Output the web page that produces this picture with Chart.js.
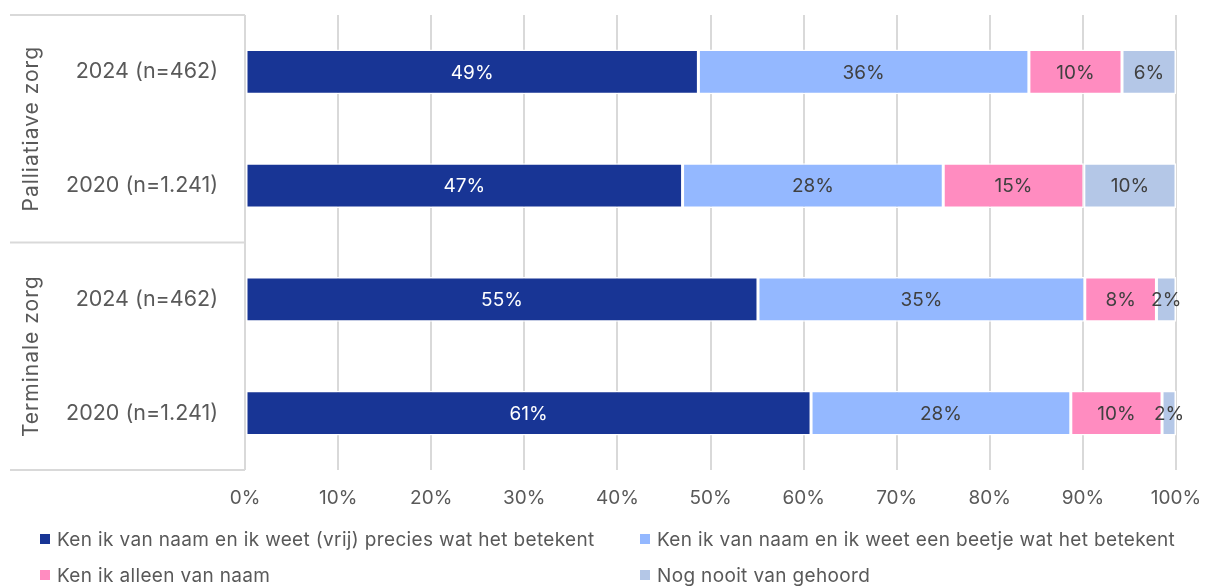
<!DOCTYPE html>
<html>
<head>
<meta charset="utf-8">
<script src="https://cdn.jsdelivr.net/npm/chart.js@4/dist/chart.umd.min.js"></script>
<style>
  html, body { margin: 0; padding: 0; background: #fff; }
  #wrap { position: relative; width: 1206px; height: 586px; }
  #c { position: absolute; left: 0; top: 0; }
  #legend { position: absolute; left: 0; top: 0; width: 1206px; height: 586px; pointer-events: none;
            font-family: "Inter", "Open Sans", sans-serif; font-size: 19px; letter-spacing: 0.35px; color: #595959; }
  .li { position: absolute; display: flex; align-items: center; white-space: nowrap; height: 24px; }
  .sw { width: 10px; height: 10px; margin-right: 7px; }
</style>
</head>
<body>
<div id="wrap">
  <canvas id="c" width="1206" height="520"></canvas>
  <div id="legend"></div>
</div>
<script>
const categories = ['2024 (n=462)', '2020 (n=1.241)', '2024 (n=462)', '2020 (n=1.241)'];
const groups = ['Palliatiave zorg', 'Terminale zorg'];
const seriesNames = [
  'Ken ik van naam en ik weet (vrij) precies wat het betekent',
  'Ken ik van naam en ik weet een beetje wat het betekent',
  'Ken ik alleen van naam',
  'Nog nooit van gehoord'
];
const precies = [48.7, 47.0, 55.1, 60.8];
const beetje = [35.5, 28.0, 35.1, 27.9];
const alleenNaam = [10.0, 15.1, 7.7, 9.8];
const nooit = [5.8, 9.9, 2.1, 1.5];
const xTicks = [0, 10, 20, 30, 40, 50, 60, 70, 80, 90, 100];

const colors = ['#183595', '#94b8ff', '#ff8cc0', '#b4c7e7'];
const labelColors = ['#ffffff', '#404040', '#404040', '#404040'];
const FONT = '"Inter", "Open Sans", sans-serif';

const seriesValues = [precies, beetje, alleenNaam, nooit];

const labelPlugin = {
  id: 'barLabels',
  afterDatasetsDraw(chart) {
    const ctx = chart.ctx;
    ctx.save();
    ctx.font = '19px ' + FONT;
    ctx.textAlign = 'center';
    ctx.textBaseline = 'middle';
    chart.data.datasets.forEach((ds, di) => {
      const meta = chart.getDatasetMeta(di);
      meta.data.forEach((bar, i) => {
        const v = ds.data[i];
        const cx = (bar.x + bar.base) / 2;
        ctx.fillStyle = labelColors[di];
        ctx.fillText(Math.round(v) + '%', cx, bar.y + 1);
      });
    });
    ctx.restore();
  }
};

const groupPlugin = {
  id: 'groupBox',
  beforeDatasetsDraw(chart) {
    const ctx = chart.ctx;
    const y = chart.scales.y;
    const area = chart.chartArea;
    ctx.save();
    ctx.strokeStyle = '#d9d9d9';
    ctx.lineWidth = 2;
    const half = (y.getPixelForValue(1) - y.getPixelForValue(0)) / 2;
    const lines = [area.top, y.getPixelForValue(1) + half, area.bottom];
    lines.forEach(py => {
      ctx.beginPath();
      ctx.moveTo(10, py);
      ctx.lineTo(area.left, py);
      ctx.stroke();
    });
    ctx.fillStyle = '#595959';
    ctx.font = '21px ' + FONT;
    ctx.letterSpacing = '1px';
    ctx.textAlign = 'center';
    ctx.textBaseline = 'middle';
    groups.forEach((g, gi) => {
      const cy = (y.getPixelForValue(gi * 2) + y.getPixelForValue(gi * 2 + 1)) / 2;
      ctx.save();
      ctx.translate(32, cy);
      ctx.rotate(-Math.PI / 2);
      ctx.fillText(g, 0, 0);
      ctx.restore();
    });
    ctx.restore();
  }
};

function zeroPad(axis) {
  axis.paddingLeft = 0; axis.paddingRight = 0; axis.paddingTop = 0; axis.paddingBottom = 0;
}

const chart = new Chart(document.getElementById('c'), {
  type: 'bar',
  data: {
    labels: categories,
    datasets: seriesNames.map((name, i) => ({
      label: name,
      data: seriesValues[i],
      backgroundColor: colors[i],
      borderColor: '#ffffff',
      borderWidth: 1.5,
      borderSkipped: false,
      barPercentage: 0.392,
      categoryPercentage: 1.0
    }))
  },
  options: {
    indexAxis: 'y',
    responsive: false,
    animation: false,
    layout: { autoPadding: false, padding: { left: 10, right: 30, top: 15, bottom: 0 } },
    plugins: { legend: { display: false }, tooltip: { enabled: false } },
    scales: {
      x: {
        stacked: true,
        min: 0, max: 100,
        afterBuildTicks(axis) { axis.ticks = xTicks.map(v => ({ value: v })); },
        ticks: { callback: v => v + '%', color: '#595959', font: { family: FONT, size: 19 }, padding: 17, maxRotation: 0 },
        grid: { color: '#d9d9d9', lineWidth: 2, drawTicks: false },
        border: { display: false },
        afterFit(axis) { axis.height = 50; zeroPad(axis); }
      },
      y: {
        stacked: true,
        ticks: { color: '#595959', font: { family: FONT, size: 21.5 }, padding: 19 },
        grid: { display: false },
        border: { display: false },
        afterFit(axis) { axis.width = 235; zeroPad(axis); }
      }
    }
  },
  plugins: [groupPlugin, labelPlugin]
});

// HTML legend built from the chart's datasets
const legendEl = document.getElementById('legend');
const legendPos = [[40, 527], [640, 527], [40, 563], [640, 563]];
chart.data.datasets.forEach((ds, i) => {
  const item = document.createElement('div');
  item.className = 'li';
  item.style.left = legendPos[i][0] + 'px';
  item.style.top = legendPos[i][1] + 'px';
  const sw = document.createElement('span');
  sw.className = 'sw';
  sw.style.background = ds.backgroundColor;
  const tx = document.createElement('span');
  tx.textContent = ds.label;
  item.appendChild(sw);
  item.appendChild(tx);
  legendEl.appendChild(item);
});
</script>
</body>
</html>
